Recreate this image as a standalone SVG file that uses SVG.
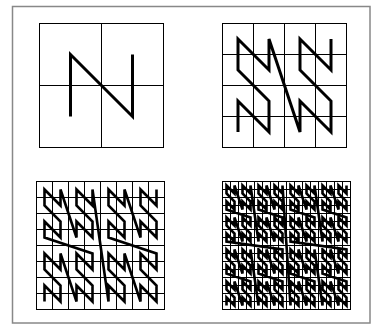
<svg xmlns="http://www.w3.org/2000/svg" width="372" height="326" viewBox="0 0 372 326">
<style>
.frame{fill:none;stroke:#888;stroke-width:1.5}
.grid{fill:none;stroke:#000;stroke-width:1}
.curve{fill:none;stroke:#000;stroke-linejoin:miter}
</style>
<rect width="372" height="326" fill="#fff"/>
<rect class="frame" x="12.5" y="6.5" width="357.5" height="316.5"/>
<g id="level1">
<rect class="grid" x="39.5" y="23.5" width="124" height="124"/>
<path class="grid" d="M101.5,23.5v124M39.5,85.5h124"/>
<path class="curve" stroke-width="3" d="M70.5,116.5v-62l62,62v-62"/>
</g>
<g id="level2">
<rect class="grid" x="222.5" y="23.5" width="124" height="124"/>
<path class="grid" d="M253.5,23.5v124M284.5,23.5v124M315.5,23.5v124M222.5,54.5h124M222.5,85.5h124M222.5,116.5h124"/>
<path class="curve" stroke-width="3" d="M238,132v-31l31,31v-31l-31,-31v-31l31,31v-31l31,93v-31l31,31v-31l-31,-31v-31l31,31v-31"/>
</g>
<g id="level3">
<rect class="grid" x="36.5" y="181.5" width="128" height="128"/>
<path class="grid" d="M52.5,181.5v128M68.5,181.5v128M84.5,181.5v128M100.5,181.5v128M116.5,181.5v128M132.5,181.5v128M148.5,181.5v128M36.5,197.5h128M36.5,213.5h128M36.5,229.5h128M36.5,245.5h128M36.5,261.5h128M36.5,277.5h128M36.5,293.5h128"/>
<path class="curve" stroke-width="2.6" d="M44.5,301.5v-16l16,16v-16l-16,-16v-16l16,16v-16l16,48v-16l16,16v-16l-16,-16v-16l16,16v-16l-48,-16v-16l16,16v-16l-16,-16v-16l16,16v-16l16,48v-16l16,16v-16l-16,-16v-16l16,16v-16l16,112v-16l16,16v-16l-16,-16v-16l16,16v-16l16,48v-16l16,16v-16l-16,-16v-16l16,16v-16l-48,-16v-16l16,16v-16l-16,-16v-16l16,16v-16l16,48v-16l16,16v-16l-16,-16v-16l16,16v-16"/>
</g>
<g id="level4">
<rect class="grid" x="222.5" y="181.5" width="128" height="128"/>
<path class="grid" d="M230.5,181.5v128M238.5,181.5v128M246.5,181.5v128M254.5,181.5v128M262.5,181.5v128M270.5,181.5v128M278.5,181.5v128M286.5,181.5v128M294.5,181.5v128M302.5,181.5v128M310.5,181.5v128M318.5,181.5v128M326.5,181.5v128M334.5,181.5v128M342.5,181.5v128M222.5,189.5h128M222.5,197.5h128M222.5,205.5h128M222.5,213.5h128M222.5,221.5h128M222.5,229.5h128M222.5,237.5h128M222.5,245.5h128M222.5,253.5h128M222.5,261.5h128M222.5,269.5h128M222.5,277.5h128M222.5,285.5h128M222.5,293.5h128M222.5,301.5h128"/>
<path class="curve" stroke-width="2.6" d="M226.5,305.5v-8l8,8v-8l-8,-8v-8l8,8v-8l8,24v-8l8,8v-8l-8,-8v-8l8,8v-8l-24,-8v-8l8,8v-8l-8,-8v-8l8,8v-8l8,24v-8l8,8v-8l-8,-8v-8l8,8v-8l8,56v-8l8,8v-8l-8,-8v-8l8,8v-8l8,24v-8l8,8v-8l-8,-8v-8l8,8v-8l-24,-8v-8l8,8v-8l-8,-8v-8l8,8v-8l8,24v-8l8,8v-8l-8,-8v-8l8,8v-8l-56,-8v-8l8,8v-8l-8,-8v-8l8,8v-8l8,24v-8l8,8v-8l-8,-8v-8l8,8v-8l-24,-8v-8l8,8v-8l-8,-8v-8l8,8v-8l8,24v-8l8,8v-8l-8,-8v-8l8,8v-8l8,56v-8l8,8v-8l-8,-8v-8l8,8v-8l8,24v-8l8,8v-8l-8,-8v-8l8,8v-8l-24,-8v-8l8,8v-8l-8,-8v-8l8,8v-8l8,24v-8l8,8v-8l-8,-8v-8l8,8v-8l8,120v-8l8,8v-8l-8,-8v-8l8,8v-8l8,24v-8l8,8v-8l-8,-8v-8l8,8v-8l-24,-8v-8l8,8v-8l-8,-8v-8l8,8v-8l8,24v-8l8,8v-8l-8,-8v-8l8,8v-8l8,56v-8l8,8v-8l-8,-8v-8l8,8v-8l8,24v-8l8,8v-8l-8,-8v-8l8,8v-8l-24,-8v-8l8,8v-8l-8,-8v-8l8,8v-8l8,24v-8l8,8v-8l-8,-8v-8l8,8v-8l-56,-8v-8l8,8v-8l-8,-8v-8l8,8v-8l8,24v-8l8,8v-8l-8,-8v-8l8,8v-8l-24,-8v-8l8,8v-8l-8,-8v-8l8,8v-8l8,24v-8l8,8v-8l-8,-8v-8l8,8v-8l8,56v-8l8,8v-8l-8,-8v-8l8,8v-8l8,24v-8l8,8v-8l-8,-8v-8l8,8v-8l-24,-8v-8l8,8v-8l-8,-8v-8l8,8v-8l8,24v-8l8,8v-8l-8,-8v-8l8,8v-8"/>
</g>
</svg>
